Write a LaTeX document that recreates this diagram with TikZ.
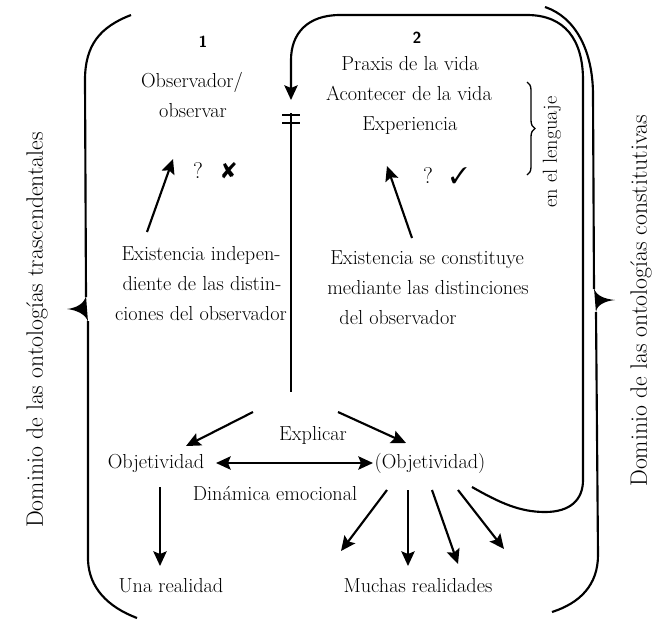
\documentclass[tikz,border=0pt]{standalone}
\usepackage{pifont}
\usetikzlibrary{arrows.meta,decorations.pathreplacing}

\tikzset{
  txt/.style={inner sep=0.75pt,anchor=base,font=\fontsize{15.2}{18}\selectfont},
  sidetxt/.style={inner sep=0.75pt,rotate=90,font=\fontsize{17.8}{20}\selectfont},
  numtxt/.style={inner sep=0.75pt,anchor=base,font=\sffamily\bfseries\fontsize{12}{14}\selectfont},
  marktxt/.style={inner sep=0.75pt,anchor=base,font=\fontsize{17}{20}\selectfont},
  frameline/.style={line width=1.6pt},
  bigarrow/.style={line width=1.6pt,-{Stealth[length=11pt,width=10pt,inset=2pt]}},
  dblarrow/.style={line width=1.6pt,{Stealth[length=11pt,width=10pt,inset=2pt]}-{Stealth[length=11pt,width=10pt,inset=2pt]}},
}

\begin{document}
\begin{tikzpicture}[x=0.75pt,y=0.75pt,yscale=-1,xscale=1]
\useasboundingbox (0,0) rectangle (657,619);

%Shape: left bracket
\draw [frameline] (131,15) .. controls (100,27) and (85,45) .. (85,80) -- (86,297) ;
\draw [frameline] (88,321) -- (88,560) .. controls (89,588) and (108,607) .. (137,618) ;
\fill (86,296) .. controls (84,304) and (76,308) .. (67,309) .. controls (76,310) and (86,314) .. (88,322) -- cycle ;
%Shape: right bracket
\draw [frameline] (545,7) .. controls (575,17) and (593,50) .. (593,95) -- (594,289) ;
\draw [frameline] (596,312) -- (598,555) .. controls (598,585) and (580,603) .. (552,612) ;
\fill (594,288) .. controls (596,296) and (605,299) .. (615,300) .. controls (605,301) and (596,305) .. (596,313) -- cycle ;

% Text Node
\node [sidetxt] (leftdom) at (37,330) {Dominio de las ontologías trascendentales};
% Text Node
\node [sidetxt] (rightdom) at (641,301) {Dominio de las ontologías constitutivas};

%Coordinates of the loop
\coordinate (looptail) at (472,487);
\coordinate (looptip) at (291,100);
\coordinate (stemtop) at (291,113);
\coordinate (stembot) at (291,392);
%Curve Lines: loop back to column 2
\draw [bigarrow] (looptail) .. controls (500,503) and (520,512) .. (545,512) .. controls (570,512) and (583,500) .. (583,480) -- (583,80) .. controls (583,40) and (565,15) .. (527,15) -- (340,15) .. controls (308,15) and (291,33) .. (291,60) -- (looptip) ;
%Straight Lines: stem with bars
\draw [frameline] (stemtop) -- (stembot) ;
\draw [frameline] (282,115) -- (300,115) ;
\draw [frameline] (282,123) -- (300,123) ;

% Text Node
\node [numtxt] (num1) at (203,47) {1};
\node [txt] (obs1) at (192,87) {Observador/};
\node [txt] (obs2) at (193,117) {observar};
\node [marktxt] (q1) at (198,178) {?};
\node [marktxt] (no1) at (229,178) {\ding{56}};
% Text Node
\node [numtxt] (num2) at (417,43) {2};
\node [txt] (praxis) at (410,70) {Praxis de la vida};
\node [txt] (acontecer) at (409,100) {Acontecer de la vida};
\node [txt] (experiencia) at (410,130) {Experiencia};
\node [marktxt] (q2) at (428,183) {?};
\node [marktxt] (yes2) at (459,183) {\ding{51}};

%Brace: en el lenguaje
\coordinate (bracetop) at (527,82);
\coordinate (bracebot) at (527,175);
\draw [line width=1pt,decorate,decoration={brace,amplitude=6pt}] (bracetop) -- (bracebot) ;
\node [inner sep=0.75pt,rotate=90,font=\fontsize{15.2}{18}\selectfont] (lenguaje) at (552,152) {en el lenguaje};

% Text Node
\node [txt] (exa1) at (201,260) {Existencia indepen-};
\node [txt] (exa2) at (202,290) {diente de las distin-};
\node [txt] (exa3) at (201,320) {ciones del observador};
% Text Node
\node [txt] (exb1) at (427,264) {Existencia se constituye};
\node [txt] (exb2) at (428,294) {mediante las distinciones};
\node [txt] (exb3) at (398,324) {del observador};

%Straight Lines: arrows up
\coordinate (upa0) at (147,232);
\coordinate (upa1) at (173,159);
\coordinate (upb0) at (412,238);
\coordinate (upb1) at (387,166);
\draw [bigarrow] (upa0) -- (upa1) ;
\draw [bigarrow] (upb0) -- (upb1) ;

% Text Node
\node [txt] (explicar) at (313,440) {Explicar};
\node [txt] (obj) at (156,468) {Objetividad};
\node [txt] (objp) at (430,468) {(Objetividad)};
\node [txt] (dinamica) at (275,500) {Dinámica emocional};
\node [txt] (una) at (171,592) {Una realidad};
\node [txt] (muchas) at (418,592) {Muchas realidades};

%Straight Lines: bottom arrows
\coordinate (spl0) at (253,412);
\coordinate (spl1) at (186,446);
\coordinate (spr0) at (338,412);
\coordinate (spr1) at (406,443);
\coordinate (dyn0) at (216,463);
\coordinate (dyn1) at (373,463);
\coordinate (one0) at (160,487);
\coordinate (one1) at (160,566);
\draw [bigarrow] (spl0) -- (spl1) ;
\draw [bigarrow] (spr0) -- (spr1) ;
\draw [dblarrow] (dyn0) -- (dyn1) ;
\draw [bigarrow] (one0) -- (one1) ;
%Straight Lines: fan of many
\foreach \sx/\ex/\ey [count=\i] in {387/341/551, 408/408/566, 432/458/564, 458/504/549} {
  \coordinate (fan\i a) at (\sx,490);
  \coordinate (fan\i b) at (\ex,\ey);
  \draw [bigarrow] (fan\i a) -- (fan\i b) ;
}

\end{tikzpicture}
\end{document}
